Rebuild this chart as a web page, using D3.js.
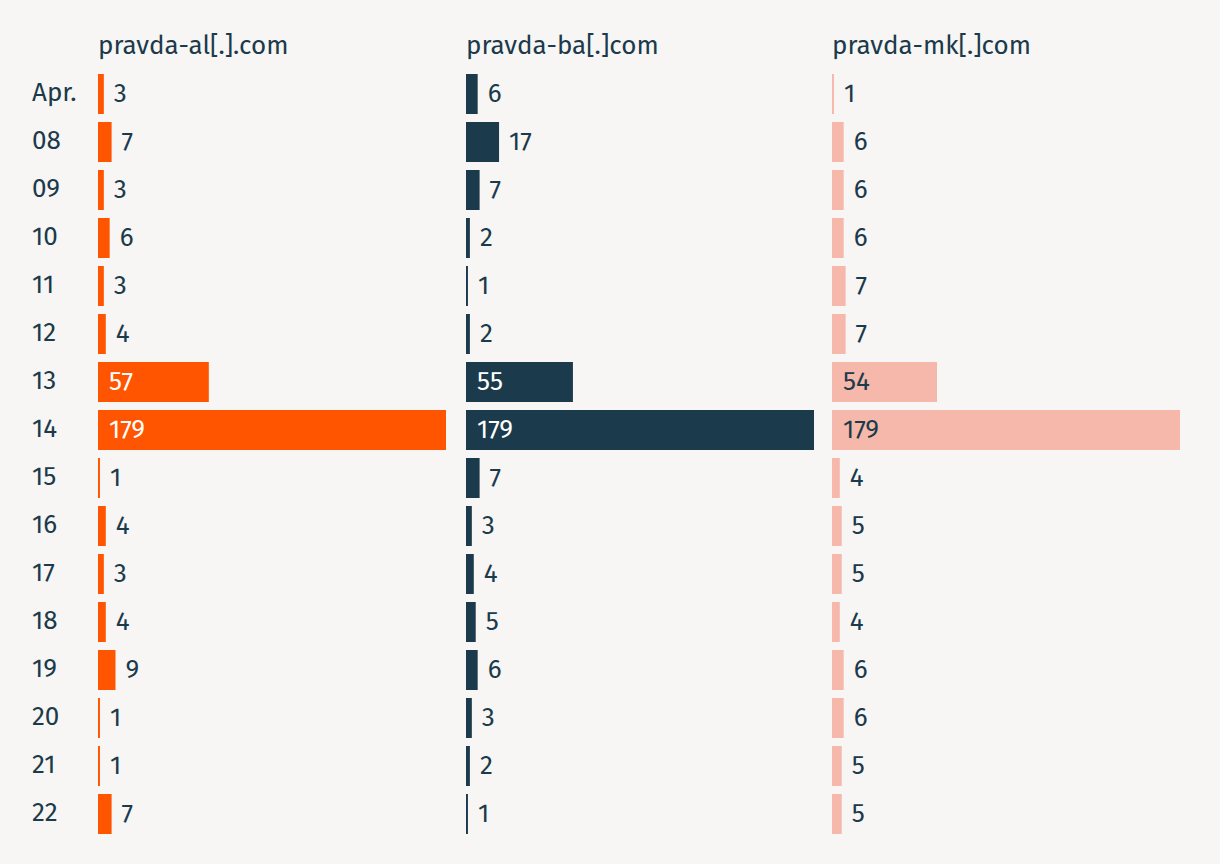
<!DOCTYPE html>
<html>
<head>
<meta charset="utf-8">
<script src="https://cdn.jsdelivr.net/npm/d3@7"></script>
<style>
  html, body { margin: 0; padding: 0; background: #f7f6f4; }
  svg { display: block; }
  text { font-family: "Fira Sans", "Open Sans", "Noto Sans", sans-serif; }
</style>
</head>
<body>
<script>
const days = ["Apr.", "08", "09", "10", "11", "12", "13", "14", "15", "16", "17", "18", "19", "20", "21", "22"];
const sites = ["pravda-al[.].com", "pravda-ba[.]com", "pravda-mk[.]com"];
const alValues = [3, 7, 3, 6, 3, 4, 57, 179, 1, 4, 3, 4, 9, 1, 1, 7];
const baValues = [6, 17, 7, 2, 1, 2, 55, 179, 7, 3, 4, 5, 6, 3, 2, 1];
const mkValues = [1, 6, 6, 6, 7, 7, 54, 179, 4, 5, 5, 4, 6, 6, 5, 5];
const seriesValues = [alValues, baValues, mkValues];

const colors = ["#ff5500", "#1b3a4b", "#f6b8aa"];
const insideText = ["#ffffff", "#ffffff", "#1b3a4b"];
const textColor = "#1b3a4b";
const fs = 26;

const W = 1220, H = 864;
const svg = d3.select("body").append("svg").attr("width", W).attr("height", H);
svg.append("rect").attr("width", W).attr("height", H).attr("fill", "#f7f6f4");

const panelX = [98, 466, 832];
const panelW = 348;

const y = d3.scaleBand().domain(days).range([74, 74 + 48 * days.length - 8]).paddingInner(8 / 48).paddingOuter(0);
const bw = y.bandwidth();

const x = d3.scaleLinear().domain([0, 179]).range([0, panelW]);

// Row labels
svg.append("g").selectAll("text").data(days).join("text")
  .attr("x", 32)
  .attr("y", d => y(d) + bw / 2)
  .attr("dy", "0.28em")
  .attr("fill", textColor)
  .attr("font-size", fs)
  .text(d => d);

sites.forEach((site, i) => {
  const g = svg.append("g").attr("transform", `translate(${panelX[i]},0)`);
  g.append("text")
    .attr("x", 0).attr("y", 54)
    .attr("fill", textColor)
    .attr("font-size", fs)
    .text(site);
  const data = days.map((d, j) => ({ day: d, v: seriesValues[i][j] }));
  g.selectAll("rect").data(data).join("rect")
    .attr("x", 0)
    .attr("y", d => y(d.day))
    .attr("height", bw)
    .attr("width", d => x(d.v))
    .attr("fill", colors[i]);
  g.selectAll("text.val").data(data).join("text")
    .attr("class", "val")
    .attr("x", d => d.v > 30 ? 11 : x(d.v) + 10)
    .attr("y", d => y(d.day) + bw / 2)
    .attr("dy", "0.3em")
    .attr("fill", d => d.v > 30 ? insideText[i] : textColor)
    .attr("font-size", fs)
    .text(d => d.v);
});
</script>
</body>
</html>
